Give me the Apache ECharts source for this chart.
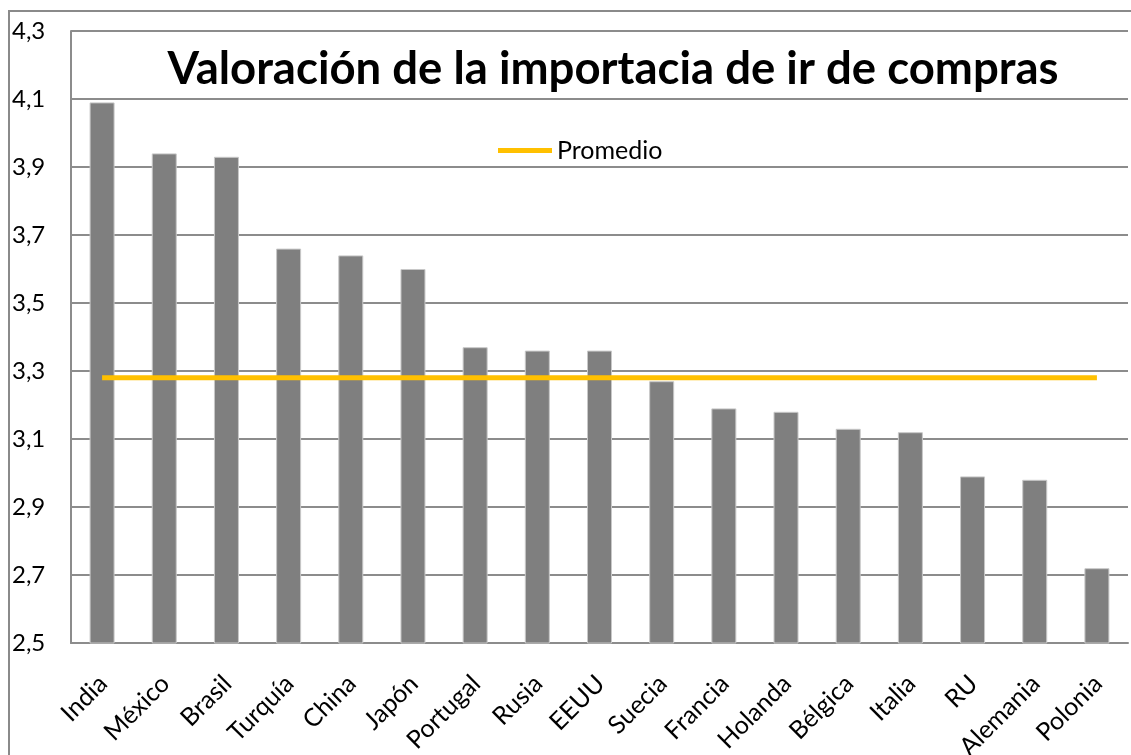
<!DOCTYPE html>
<html>
<head>
<meta charset="utf-8">
<script src="https://cdn.jsdelivr.net/npm/echarts@6/dist/echarts.min.js"></script>
<style>
  html, body { margin: 0; padding: 0; background: #fff; }
  #chart { width: 1131px; height: 755px; }
</style>
</head>
<body>
<div id="chart"></div>
<script>
const countries = ['India', 'México', 'Brasil', 'Turquía', 'China', 'Japón', 'Portugal', 'Rusia', 'EEUU',
  'Suecia', 'Francia', 'Holanda', 'Bélgica', 'Italia', 'RU', 'Alemania', 'Polonia']
const scores = [4.09, 3.94, 3.93, 3.66, 3.64, 3.60, 3.37, 3.36, 3.36, 3.27, 3.19, 3.18, 3.13, 3.12, 2.99, 2.98, 2.72]
const promedio = 3.28
const promedioLine = countries.map(() => promedio)

const font = 'Lato'

const chart = echarts.init(document.getElementById('chart'))
chart.setOption({
  animation: false,
  textStyle: { fontFamily: font },
  title: {
    text: 'Valoración de la importacia de ir de compras',
    left: 608,
    textAlign: 'center',
    top: 41,
    textStyle: { fontSize: 45.5, fontWeight: 'bold', color: '#000', fontFamily: font }
  },
  legend: {
    data: ['Promedio'],
    left: 493,
    top: 133,
    icon: 'rect',
    itemWidth: 54,
    itemHeight: 5,
    textStyle: { fontSize: 25, color: '#000', fontFamily: font }
  },
  graphic: [{
    type: 'rect',
    shape: { x: 9, y: 11, width: 1200, height: 800 },
    style: { fill: 'none', stroke: '#8a8a8a', lineWidth: 2 },
    silent: true
  }],
  grid: { left: 71, right: 3, top: 31, bottom: 112, outerBoundsMode: 'none' },
  xAxis: {
    type: 'category',
    data: countries,
    axisTick: { show: false },
    axisLine: { lineStyle: { color: '#8c8c8c', width: 2 } },
    axisLabel: {
      rotate: 45, fontSize: 25, color: '#000', margin: 20, interval: 0,
      verticalAlign: 'top', padding: [0, 11, 0, 0]
    }
  },
  yAxis: {
    type: 'value',
    min: 2.5,
    max: 4.3,
    interval: 0.2,
    axisTick: { show: false },
    axisLine: { show: true, lineStyle: { color: '#8c8c8c', width: 2 } },
    splitLine: { lineStyle: { color: '#8c8c8c', width: 2 } },
    axisLabel: {
      fontSize: 24, color: '#000', align: 'left', margin: 59,
      formatter: v => v.toFixed(1).replace('.', ',')
    }
  },
  series: [
    {
      type: 'bar',
      data: scores,
      barWidth: 25,
      itemStyle: { color: '#7f7f7f', borderColor: '#c8c8c8', borderWidth: 1 }
    },
    {
      name: 'Promedio',
      type: 'line',
      data: promedioLine,
      symbol: 'none',
      itemStyle: { color: '#FFC000' },
      lineStyle: { color: '#FFC000', width: 5 }
    }
  ]
})
</script>
</body>
</html>
